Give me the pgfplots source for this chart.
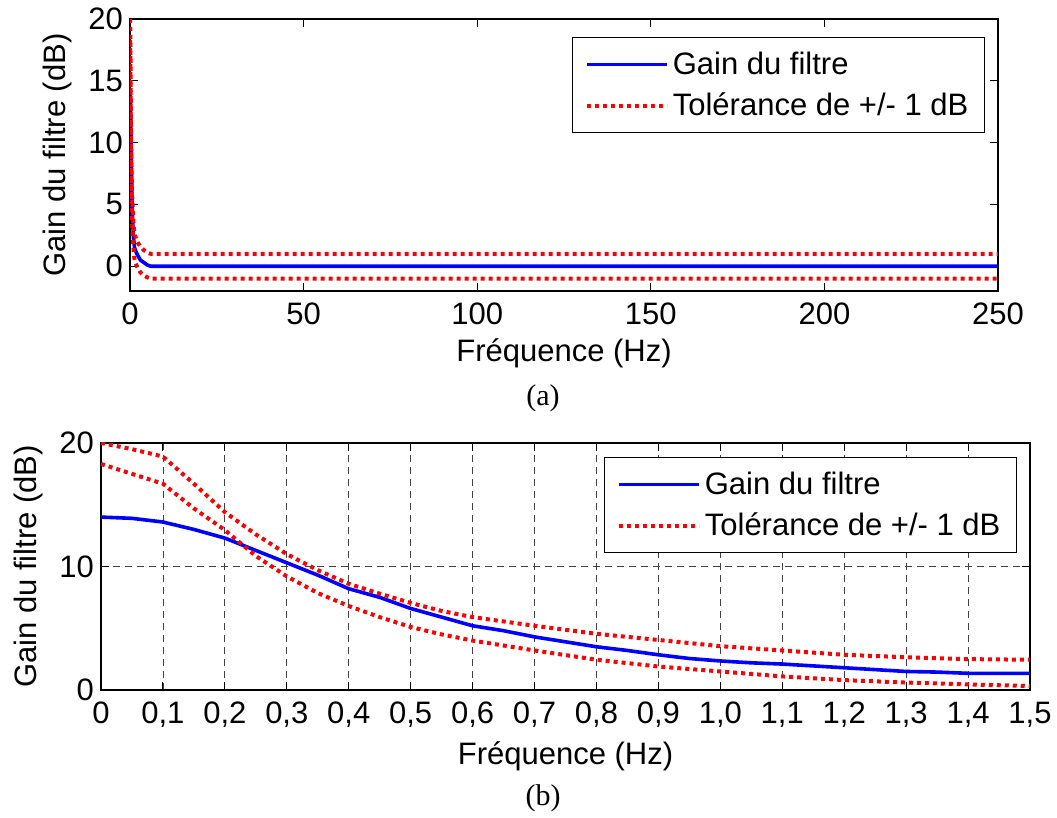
\documentclass[border=0pt]{standalone}
\usepackage{fontspec}
\setmainfont{Liberation Sans}
\newfontfamily\capfont{Liberation Serif}
\usepackage{pgfplots}
\usepackage{pgfplotstable}
\pgfplotsset{compat=1.18}
\definecolor{mblue}{HTML}{0000FF}
\definecolor{mred}{HTML}{FF0000}

% gain of the filter (dB) vs frequency (Hz)
\pgfplotstableread{
f g
0 14.0
0.05 13.9
0.1 13.6
0.15 13.0
0.2 12.3
0.25 11.3
0.3 10.3
0.35 9.3
0.4 8.2
0.45 7.5
0.5 6.6
0.55 5.9
0.6 5.2
0.65 4.8
0.7 4.3
0.75 3.9
0.8 3.5
0.85 3.2
0.9 2.85
0.95 2.55
1.0 2.35
1.05 2.2
1.1 2.1
1.15 1.95
1.2 1.8
1.25 1.65
1.3 1.5
1.35 1.45
1.4 1.35
1.45 1.35
1.5 1.35
2 1.0
3 0.5
4 0.3
5 0.1
6 0
250 0
}\gain

% upper tolerance
\pgfplotstableread{
f g
0 20.0
0.05 19.5
0.1 18.9
0.15 16.7
0.2 14.4
0.25 12.6
0.3 11.0
0.35 9.7
0.4 8.6
0.45 7.8
0.5 7.05
0.55 6.4
0.6 5.9
0.7 5.2
0.8 4.55
0.9 4.05
1.0 3.55
1.1 3.2
1.2 2.85
1.3 2.65
1.4 2.5
1.5 2.45
2 2.0
3 1.6
4 1.3
5 1.1
6 1.0
250 1.0
}\tolhi

% lower tolerance
\pgfplotstableread{
f g
0 18.3
0.05 17.5
0.1 16.7
0.15 14.7
0.2 12.95
0.25 10.85
0.3 9.2
0.35 7.85
0.4 6.8
0.45 5.9
0.5 5.1
0.55 4.5
0.6 4.0
0.7 3.2
0.8 2.45
0.9 1.9
1.0 1.5
1.1 1.1
1.2 0.8
1.3 0.6
1.4 0.45
1.5 0.32
2 0.0
3 -0.5
4 -0.75
5 -0.9
6 -1.0
250 -1.0
}\tollo

\pgfplotsset{
  mstyle/.style={
    scale only axis,
    axis line style={line width=0.8pt},
    tick align=inside,
    major tick length=4pt,
    tick style={black, line width=0.5pt},
    every tick label/.append style={font=\fontsize{15.5}{18}\selectfont},
    xticklabel style={yshift=-2.5pt},
    label style={font=\fontsize{15.5}{18}\selectfont},
    ylabel style={yshift=1.5pt},
    /pgf/number format/assume math mode=true,
    xlabel={Fréquence (Hz)},
    ylabel={Gain du filtre (dB)},
    legend cell align=left,
    legend style={
      font=\fontsize{15.5}{18}\selectfont,
      at={(1,1)}, anchor=north east, xshift=-6.5pt,
      draw=black, line width=0.6pt,
      inner xsep=6pt, inner ysep=5pt,
      row sep=4pt,
    },
    legend image code/.code={\draw[#1] (0pt,0pt) -- (40pt,0pt);},
  },
  gainline/.style={color=mblue, line width=1.8pt, no markers},
  tolline/.style={color=mred, line width=2pt, dash pattern=on 2pt off 2pt, no markers},
}

\begin{document}
\begin{tikzpicture}
\path[use as bounding box] (-50.5pt,-64pt) rectangle (478pt,345pt);

\begin{axis}[
  mstyle,
  at={(14.5pt,199.5pt)}, anchor=south west,
  width=434pt, height=136pt,
  xmin=0, xmax=250, ymin=-2, ymax=20,
  xtick={0,50,100,150,200,250},
  ytick={0,5,10,15,20},
  legend style={yshift=-9pt},
]
\addplot[gainline] table[x=f,y=g] {\gain};
\addlegendentry{Gain du filtre}
\addplot[tolline] table[x=f,y=g] {\tolhi};
\addlegendentry{Tolérance de +/- 1 dB}
\addplot[tolline, forget plot] table[x=f,y=g] {\tollo};
\end{axis}
\node[font=\capfont\fontsize{15}{18}\selectfont] at (221pt,146pt) {(a)};

\begin{axis}[
  mstyle,
  at={(0pt,0pt)}, anchor=south west,
  width=464.5pt, height=123.5pt,
  xmin=0, xmax=1.5, ymin=0, ymax=20,
  restrict x to domain=0:2,
  xtick={0,0.1,0.2,0.3,0.4,0.5,0.6,0.7,0.8,0.9,1.0,1.1,1.2,1.3,1.4,1.5},
  xticklabels={0,{0,1},{0,2},{0,3},{0,4},{0,5},{0,6},{0,7},{0,8},{0,9},{1,0},{1,1},{1,2},{1,3},{1,4},{1,5}},
  ytick={0,10,20},
  grid=major,
  grid style={black!75, line width=0.4pt, dash pattern=on 3.5pt off 2.5pt},
  legend style={yshift=-7pt},
]
\addplot[gainline] table[x=f,y=g] {\gain};
\addlegendentry{Gain du filtre}
\addplot[tolline] table[x=f,y=g] {\tolhi};
\addlegendentry{Tolérance de +/- 1 dB}
\addplot[tolline, forget plot] table[x=f,y=g] {\tollo};
\end{axis}
\node[font=\capfont\fontsize{15}{18}\selectfont] at (221pt,-54pt) {(b)};
\end{tikzpicture}
\end{document}
